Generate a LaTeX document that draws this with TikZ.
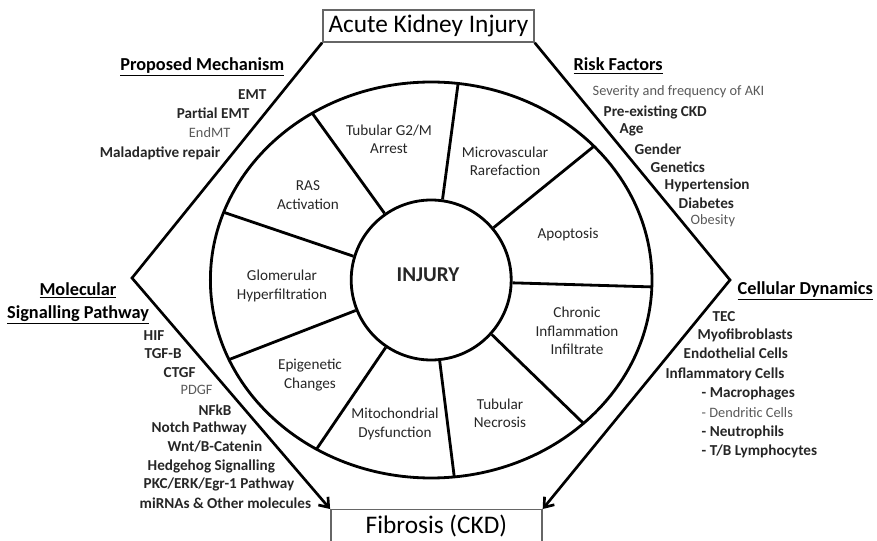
\documentclass[tikz,border=0pt]{standalone}
\usepackage{fontspec}
\setmainfont{Carlito}
\usetikzlibrary{positioning}
\usetikzlibrary{arrows.meta}
\usetikzlibrary{calc}

\tikzset{
  framebox/.style={draw=black!60, line width=1pt, inner sep=0pt, minimum width=5.28cm, font=\fontsize{18}{20}\selectfont},
  hexline/.style={line width=1.9pt, -{Straight Barb[length=6pt,width=9pt]}},
  wheel/.style={line width=2pt},
  seg/.style={align=center, font=\fontsize{10.8}{13}\selectfont, text=black!85},
  head/.style={font=\bfseries\fontsize{13}{16.5}\selectfont, align=center, inner sep=1pt},
  item/.style={font=\bfseries\fontsize{10.8}{12}\selectfont, text=black!85, inner sep=1pt},
  faint/.style={font=\fontsize{10.2}{11}\selectfont, text=black!65, inner sep=1pt},
}

\begin{document}
\begin{tikzpicture}
	\useasboundingbox (0,0) rectangle (21.925,13.5);
	\clip (0,0) rectangle (21.925,13.5);

	% start and end
	\node[framebox, minimum height=0.8cm] (aki) at (10.71,12.85) {Acute Kidney Injury};
	\node[framebox, minimum height=0.8cm, anchor=north] (ckd) at (10.91,0.775) {Fibrosis (CKD)};
	\coordinate (lv) at (3.3,6.55);
	\coordinate (rv) at (18.25,6.5);
	\draw[hexline] (aki.south west) -- (lv) -- (ckd.north west);
	\draw[hexline] (aki.south east) -- (rv) -- (ckd.north east);

	% wheel
	\coordinate (c) at (10.78,6.5);
	\draw[wheel] (c) ellipse (5.52 and 4.95);
	\node[circle, draw, wheel, minimum size=4cm, inner sep=0pt] (core) at (c) {};
	\node[font=\bfseries\fontsize{15}{17}\selectfont, text=black!85] (inj) at (10.7,6.625) {INJURY};
	\foreach \a/\b in {125/122.6, 163/160, 202.8/203.7, 236.5/238.7, 276.7/276,
	                   318/313.6, 358/358, 40.7/42.5, 82/83}
		\draw[wheel] (core.\a) -- ([shift={(\b:5.52 and 4.95)}]c);

	\begin{scope}[every node/.style={seg}]
	    \node (g2m) at (9.725,10.025) {Tubular G2/M\\Arrest};
	    \node (micro) at (12.625,9.475) {Microvascular\\Rarefaction};
	    \node (apop) at (14.2,7.625) {Apoptosis};
	    \node (chron) at (14.425,5.225) {Chronic\\Inflammation\\Infiltrate};
	    \node (necr) at (12.5,3.175) {Tubular\\Necrosis};
	    \node (mito) at (9.875,2.9) {Mitochondrial\\Dysfunction};
	    \node (epi) at (7.75,4.125) {Epigenetic\\Changes};
	    \node (glom) at (7.05,6.35) {Glomerular\\Hyperfiltration};
	    \node (ras) at (7.7,8.625) {RAS\\Activation};
	\end{scope}

	% proposed mechanism
	\node[head, anchor=east] (mech) at (7.15,11.825) {\underline{Proposed Mechanism}};
	\begin{scope}[every node/.style={item, anchor=east}]
	    \node (emt) at (6.7,11.125) {EMT};
	    \node (pemt) at (6.275,10.675) {Partial EMT};
	    \node[faint] (endmt) at (5.8,10.175) {EndMT};
	    \node (malad) at (5.55,9.675) {Maladaptive repair};
	\end{scope}

	% risk factors
	\node[head, anchor=west] (risk) at (14.3,11.85) {\underline{Risk Factors}};
	\begin{scope}[every node/.style={item, anchor=west}]
	    \node[faint] (sev) at (14.775,11.2) {Severity and frequency of AKI};
	    \node (preckd) at (15.05,10.7) {Pre-existing CKD};
	    \node (age) at (15.45,10.25) {Age};
	    \node (gender) at (15.825,9.775) {Gender};
	    \node (genet) at (16.225,9.325) {Genetics};
	    \node (hyper) at (16.575,8.875) {Hypertension};
	    \node (diab) at (16.925,8.425) {Diabetes};
	    \node[faint] (obes) at (17.225,7.975) {Obesity};
	\end{scope}

	% molecular signalling
	\node[head] (molec) at (1.95,5.9125) {\underline{Molecular}\\\underline{Signalling Pathway}};
	\begin{scope}[every node/.style={item, anchor=west}]
	    \node (hif) at (3.55,5.1) {HIF};
	    \node (tgfb) at (3.575,4.65) {TGF-B};
	    \node (ctgf) at (4.05,4.175) {CTGF};
	    \node[faint] (pdgf) at (4.475,3.75) {PDGF};
	    \node (nfkb) at (4.925,3.25) {NFkB};
	    \node (notch) at (3.75,2.8) {Notch Pathway};
	    \node (wnt) at (4.15,2.325) {Wnt/B-Catenin};
	    \node (hedge) at (3.65,1.85) {Hedgehog Signalling};
	    \node (pkc) at (3.55,1.4) {PKC/ERK/Egr-1 Pathway};
	    \node (mirna) at (3.45,0.925) {miRNAs \& Other molecules};
	\end{scope}

	% cellular dynamics
	\node[head, anchor=west] (cell) at (18.4,6.225) {\underline{Cellular Dynamics}};
	\begin{scope}[every node/.style={item, anchor=west}]
	    \node (tec) at (17.775,5.575) {TEC};
	    \node (myof) at (17.4,5.125) {Myofibroblasts};
	    \node (endo) at (17.05,4.675) {Endothelial Cells};
	    \node (infl) at (16.6,4.15) {Inflammatory Cells};
	    \node (macro) at (17.5,3.675) {- Macrophages};
	    \node[faint] (dendr) at (17.5,3.175) {- Dendritic Cells};
	    \node (neutr) at (17.5,2.7) {- Neutrophils};
	    \node (lymph) at (17.5,2.225) {- T/B Lymphocytes};
	\end{scope}
\end{tikzpicture}
\end{document}
